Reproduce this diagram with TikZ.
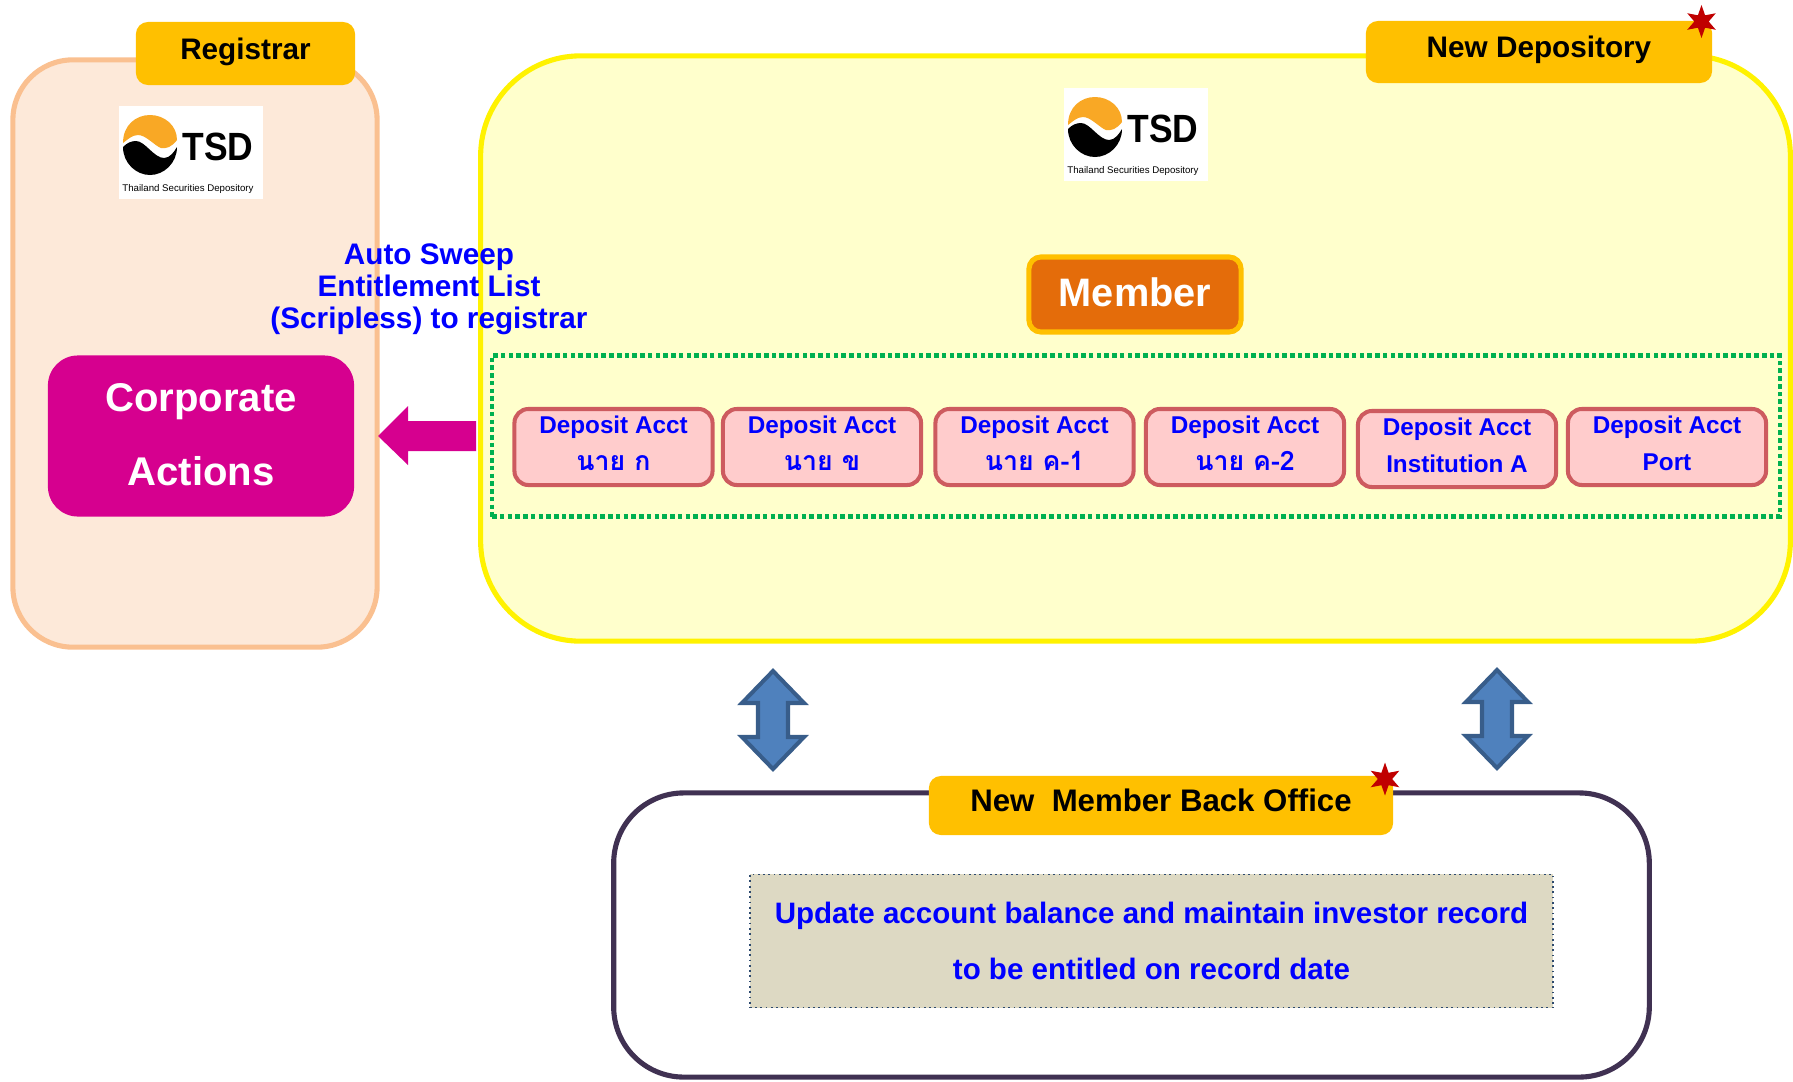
\documentclass[tikz,border=0pt]{standalone}
\usepackage{fontspec}
\setmainfont{Liberation Sans}
\newfontfamily\thaifont[Script=Thai,Scale=1.1]{Loma}
\usetikzlibrary{shapes.geometric}
\definecolor{regfill}{HTML}{FDE9D9}
\definecolor{regline}{HTML}{FAC090}
\definecolor{depfill}{HTML}{FFFFCC}
\definecolor{tabfill}{HTML}{FFC000}
\definecolor{memfill}{HTML}{E46C0A}
\definecolor{dotgreen}{HTML}{00B050}
\definecolor{acctfill}{HTML}{FFCCCC}
\definecolor{acctline}{HTML}{CD5B5F}
\definecolor{corpfill}{HTML}{D6008F}
\definecolor{bofline}{HTML}{403152}
\definecolor{notefill}{HTML}{DDD9C3}
\definecolor{arrfill}{HTML}{4F81BD}
\definecolor{arrline}{HTML}{385D8A}
\definecolor{starred}{HTML}{C00000}
\definecolor{logoorange}{HTML}{F9A825}
\tikzset{
    panel/.style={draw,line width=1.45pt,inner sep=0pt},
    tab/.style={fill=tabfill,rounded corners=0.12cm,inner sep=0pt,align=center,text height=0.27cm,text depth=0.16cm,font=\fontsize{8.45}{9.1}\selectfont\bfseries},
    acct/.style={draw=acctline,fill=acctfill,line width=1.15pt,rounded corners=0.14cm,minimum width=1.98cm,minimum height=0.76cm,inner sep=0pt,align=center,text=blue,text depth=0.07cm,font=\fontsize{6.9}{10.5}\selectfont\bfseries},
    redstar/.style={star,star points=6,star point ratio=2.3,fill=starred,minimum size=0.33cm,inner sep=0pt},
    blocktext/.style={text=blue,align=center,inner sep=0pt},
    dblarrow/.style={fill=arrfill,draw=arrline,line width=1.15pt,miter limit=10},
    tsdlogo/.pic={
        \node[fill=white,minimum width=1.44cm,minimum height=0.93cm,inner sep=0pt] (-box) at (72,46.5) {};
        \begin{scope}[shift={(31,39)}]
        \fill[logoorange] (-27,-2) .. controls (-27,-20) and (-14,-30) .. (0,-30) .. controls (14,-30) and (27,-20) .. (27,-5) .. controls (22,2) and (16,4) .. (11,3) .. controls (5,1) and (-4,-10) .. (-12,-10) .. controls (-18,-10) and (-23,-5) .. (-27,-2);
        \fill[black] (-27,2) .. controls (-23,-2) and (-19,-4) .. (-14,-4) .. controls (-5,-4) and (4,13) .. (14,13) .. controls (20,13) and (24,7) .. (27,2) .. controls (27,18) and (14,30) .. (0,30) .. controls (-14,30) and (-27,18) .. (-27,2);
        \end{scope}
        \node[inner sep=0pt,transform shape,xscale=0.9,font=\fontsize{11.2}{12}\selectfont\bfseries] (-tsd) at (99,41) {TSD};
        \node[inner sep=0pt,font=\fontsize{2.75}{3}\selectfont] (-sub) at (69,83) {Thailand Securities Depository};
    }
}
\begin{document}
\begin{tikzpicture}[x=0.01cm,y=-0.01cm]
    \useasboundingbox (0,0) rectangle (1793,1081);
%panels
    \node[panel,draw=regline,fill=regfill,rounded corners=0.6cm,minimum width=3.64cm,minimum height=5.87cm] (regpanel) at (195,353.5) {};
    \node[panel,draw=yellow,fill=depfill,rounded corners=1cm,minimum width=13.09cm,minimum height=5.85cm] (deppanel) at (1135.5,348.5) {};
    \node[panel,draw=bofline,fill=white,rounded corners=0.7cm,minimum width=10.35cm,minimum height=2.84cm] (bofpanel) at (1131.5,935) {};
    \node[tab,minimum width=2.19cm,minimum height=0.63cm] (registrar) at (245.5,53.5) {Registrar};
    \node[tab,minimum width=3.46cm,minimum height=0.62cm] (newdep) at (1539,52) {New Depository};
    \node[tab,minimum width=4.64cm,minimum height=0.59cm,font=\fontsize{8.87}{9.1}\selectfont\bfseries] (newbof) at (1161,805.5) {New~~Member Back Office};
    \node[redstar] (stardep) at (1701.5,21.5) {};
    \node[redstar] (starbof) at (1385,779) {};
    \pic (logoreg) at (119,106) {tsdlogo};
    \pic (logodep) at (1064,88) {tsdlogo};
%depository
    \node[draw=tabfill,fill=memfill,line width=1.45pt,rounded corners=0.12cm,minimum width=2.12cm,minimum height=0.75cm,inner sep=0pt,text=white,text height=0.3cm,text depth=0.055cm,font=\fontsize{11.3}{12}\selectfont\bfseries] (member) at (1135,294.5) {Member};
    \node[draw=dotgreen,line width=1.3pt,dash pattern=on 1.3pt off 0.9pt,minimum width=12.87cm,minimum height=1.61cm,inner sep=0pt] (acctgroup) at (1136,436) {};
    \foreach \i/\x/\y/\acctname in {1/613.5/447/{\thaifont นาย ก},2/822/447/{\thaifont นาย ข},3/1034.5/447/{\thaifont นาย ค-1},4/1245/447/{\thaifont นาย ค-2},5/1457/449/{Institution A},6/1667/447/{Port}}
    {
        \node[acct] (acct\i) at (\x,\y) {Deposit Acct\\\acctname};
    }
%registrar side
    \node[fill=corpfill,rounded corners=0.3cm,minimum width=3.06cm,minimum height=1.61cm,inner sep=0pt,align=center,text=white,text depth=0.03cm,font=\fontsize{11.4}{20.8}\selectfont\bfseries] (corp) at (201,436) {Corporate\\Actions};
    \fill[corpfill] (378,436) -- (408,406) -- (408,421) -- (476,421) -- (476,451) -- (408,451) -- (408,465) -- cycle;
    \node[blocktext,font=\fontsize{8.45}{9.1}\selectfont\bfseries] (sweep) at (429,289) {Auto Sweep\\Entitlement List\\(Scripless) to registrar};
%back office
    \foreach \x/\y in {773/0,1497/-1}
    {
        \draw[dblarrow,shift={(\x,\y)}] (0,671) -- (31,703) -- (15,703) -- (15,737) -- (31,737) -- (0,769) -- (-31,737) -- (-15,737) -- (-15,703) -- (-31,703) -- cycle;
    }
    \node[draw=arrline!80!black,fill=notefill,densely dotted,line width=0.5pt,minimum width=8.03cm,minimum height=1.33cm,inner sep=0pt] (note) at (1151.5,941) {};
    \node[blocktext,font=\fontsize{8.4}{15.9}\selectfont\bfseries] (notetext) at (1151.5,941) {Update account balance and maintain investor record\\to be entitled on record date};
\end{tikzpicture}
\end{document}
